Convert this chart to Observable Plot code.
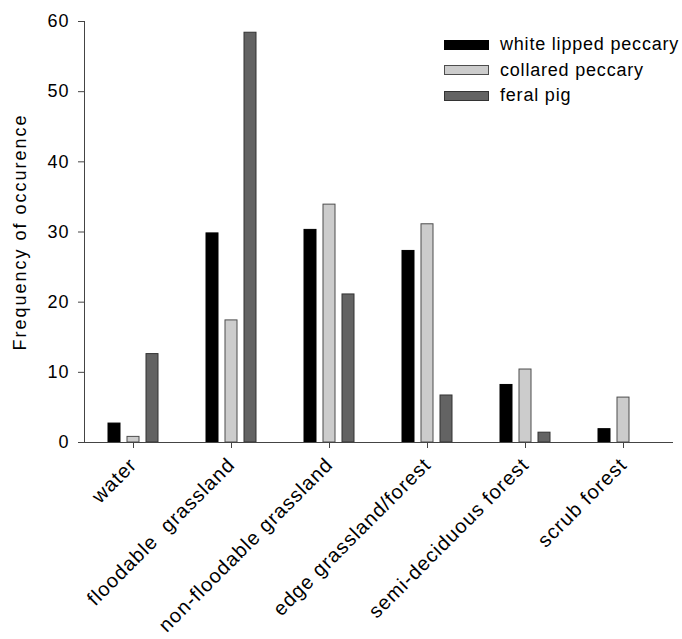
<!DOCTYPE html>
<html>
<head>
<meta charset="utf-8">
<script src="https://cdn.jsdelivr.net/npm/d3@7"></script>
<script src="https://cdn.jsdelivr.net/npm/@observablehq/plot@0.6"></script>
<style>
  html, body { margin: 0; padding: 0; background: #fff; }
  #wrap { position: relative; width: 682px; height: 639px; overflow: hidden; font-family: "Liberation Sans", Arial, sans-serif; }
  #wrap svg text { letter-spacing: 1px; fill: #000; }
  #wrap svg g[aria-label="y-axis label"] text { letter-spacing: 2px; }
  #legend { position: absolute; left: 444px; top: 32px; font-size: 18px; letter-spacing: 0.8px; color: #000; }
  #legend .row { display: flex; align-items: center; height: 25.5px; }
  #legend .sw { width: 45px; height: 10px; margin-right: 11px; box-sizing: border-box; border: 1px solid #000; }
</style>
</head>
<body>
<div id="wrap"></div>
<script>
const categories = ["water", "floodable  grassland", "non-floodable grassland", "edge grassland/forest", "semi-deciduous forest", "scrub forest"];
const series = ["white lipped peccary", "collared peccary", "feral pig"];
const whiteLipped = [2.7, 29.8, 30.3, 27.3, 8.2, 1.9];
const collared = [0.8, 17.4, 33.9, 31.1, 10.4, 6.4];
const feralPig = [12.6, 58.4, 21.1, 6.7, 1.4, null];
const yTicks = [0, 10, 20, 30, 40, 50, 60];
const fills = ["#000000", "#cccccc", "#636363"];
const strokes = ["#000000", "#4d4d4d", "#333333"];

const values = [whiteLipped, collared, feralPig];
const table = [];
series.forEach((s, i) => categories.forEach((c, j) => table.push({category: c, series: s, value: values[i][j]})));

const plot = Plot.plot({
  width: 682,
  height: 639,
  marginTop: 21,
  marginBottom: 197,
  marginLeft: 83,
  marginRight: 10,
  style: {fontFamily: "Liberation Sans, Arial, sans-serif", background: "#fff", color: "#000"},
  fx: {domain: categories, padding: 0},
  x: {domain: series, paddingInner: 0.36, paddingOuter: 1.2, axis: null},
  y: {domain: [0, 60]},
  marks: [
    ...series.map((s, i) => Plot.barY(table, {
      filter: d => d.series === s && d.value != null,
      fx: "category", x: "series", y: "value",
      fill: fills[i], stroke: strokes[i], strokeWidth: 1
    })),
    Plot.frame({anchor: "left", facet: "super", stroke: "#444"}),
    Plot.frame({anchor: "bottom", facet: "super", stroke: "#444"}),
    Plot.axisY({ticks: yTicks, tickSize: 6, tickPadding: 9, fontSize: 18, stroke: "#444", fill: "#000",
      label: "Frequency of occurence", labelAnchor: "center", labelArrow: "none", labelOffset: 71}),
    Plot.axisFx({anchor: "bottom", tickRotate: -45, tickSize: 6, tickPadding: 13, fontSize: 20, stroke: "#444", fill: "#000", label: null})
  ]
});

const wrap = document.getElementById("wrap");
wrap.appendChild(plot);

const legend = document.createElement("div");
legend.id = "legend";
series.forEach((s, i) => {
  const row = document.createElement("div");
  row.className = "row";
  const sw = document.createElement("span");
  sw.className = "sw";
  sw.style.background = fills[i];
  sw.style.borderColor = strokes[i];
  const t = document.createElement("span");
  t.textContent = s;
  row.appendChild(sw);
  row.appendChild(t);
  legend.appendChild(row);
});
wrap.appendChild(legend);
</script>
</body>
</html>
